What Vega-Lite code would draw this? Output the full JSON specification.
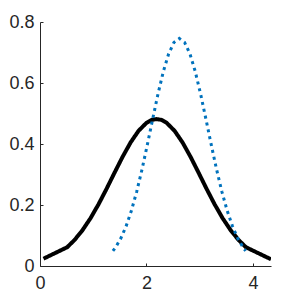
{
  "$schema": "https://vega.github.io/schema/vega-lite/v6.json",
  "autosize": "none",
  "width": 231,
  "height": 244,
  "padding": {"left": 40, "top": 22, "right": 29, "bottom": 34},
  "background": "white",
  "config": {"view": {"stroke": null}},
  "data": {"values": [
    {"x": 0.066, "y": 0.024, "s": "a"},
    {"x": 0.51, "y": 0.0615, "s": "a"},
    {"x": 0.65, "y": 0.0855, "s": "a"},
    {"x": 0.8, "y": 0.1178, "s": "a"},
    {"x": 0.95, "y": 0.157, "s": "a"},
    {"x": 1.1, "y": 0.2025, "s": "a"},
    {"x": 1.25, "y": 0.2529, "s": "a"},
    {"x": 1.4, "y": 0.3057, "s": "a"},
    {"x": 1.55, "y": 0.3574, "s": "a"},
    {"x": 1.7, "y": 0.4044, "s": "a"},
    {"x": 1.85, "y": 0.4429, "s": "a"},
    {"x": 2.0, "y": 0.4693, "s": "a"},
    {"x": 2.1, "y": 0.4791, "s": "a"},
    {"x": 2.19, "y": 0.4818, "s": "a"},
    {"x": 2.28, "y": 0.4791, "s": "a"},
    {"x": 2.38, "y": 0.4693, "s": "a"},
    {"x": 2.53, "y": 0.4429, "s": "a"},
    {"x": 2.68, "y": 0.4044, "s": "a"},
    {"x": 2.83, "y": 0.3574, "s": "a"},
    {"x": 2.98, "y": 0.3057, "s": "a"},
    {"x": 3.13, "y": 0.2529, "s": "a"},
    {"x": 3.28, "y": 0.2025, "s": "a"},
    {"x": 3.43, "y": 0.157, "s": "a"},
    {"x": 3.58, "y": 0.1178, "s": "a"},
    {"x": 3.73, "y": 0.0855, "s": "a"},
    {"x": 3.87, "y": 0.0615, "s": "a"},
    {"x": 4.34, "y": 0.022, "s": "a"},
    {"x": 1.37, "y": 0.0493, "s": "b"},
    {"x": 1.417, "y": 0.0603, "s": "b"},
    {"x": 1.517, "y": 0.0901, "s": "b"},
    {"x": 1.617, "y": 0.13, "s": "b"},
    {"x": 1.717, "y": 0.1813, "s": "b"},
    {"x": 1.817, "y": 0.2439, "s": "b"},
    {"x": 1.917, "y": 0.317, "s": "b"},
    {"x": 2.017, "y": 0.3978, "s": "b"},
    {"x": 2.117, "y": 0.4821, "s": "b"},
    {"x": 2.217, "y": 0.5641, "s": "b"},
    {"x": 2.317, "y": 0.6375, "s": "b"},
    {"x": 2.417, "y": 0.6956, "s": "b"},
    {"x": 2.517, "y": 0.7331, "s": "b"},
    {"x": 2.617, "y": 0.746, "s": "b"},
    {"x": 2.717, "y": 0.7331, "s": "b"},
    {"x": 2.817, "y": 0.6956, "s": "b"},
    {"x": 2.917, "y": 0.6375, "s": "b"},
    {"x": 3.017, "y": 0.5641, "s": "b"},
    {"x": 3.117, "y": 0.4821, "s": "b"},
    {"x": 3.217, "y": 0.3978, "s": "b"},
    {"x": 3.317, "y": 0.317, "s": "b"},
    {"x": 3.417, "y": 0.2439, "s": "b"},
    {"x": 3.517, "y": 0.1813, "s": "b"},
    {"x": 3.617, "y": 0.13, "s": "b"},
    {"x": 3.717, "y": 0.0901, "s": "b"},
    {"x": 3.817, "y": 0.0603, "s": "b"},
    {"x": 3.864, "y": 0.0493, "s": "b"}
  ]},
  "mark": {"type": "line", "clip": true},
  "encoding": {
    "x": {"field": "x", "type": "quantitative",
      "scale": {"domain": [0, 4.34], "nice": false, "zero": false},
      "axis": {"title": null, "values": [0, 2, 4], "grid": false, "domainColor": "#262626", "tickColor": "#262626", "tickSize": -3, "labelPadding": 11, "labelFontSize": 18, "labelFont": "Liberation Sans", "labelColor": "#262626", "labelFlush": false}},
    "y": {"field": "y", "type": "quantitative",
      "scale": {"domain": [0, 0.8], "nice": false},
      "axis": {"title": null, "values": [0, 0.2, 0.4, 0.6, 0.8], "format": "~g", "grid": false, "domainColor": "#262626", "tickColor": "#262626", "tickSize": -3, "labelPadding": 9, "labelFontSize": 18, "labelFont": "Liberation Sans", "labelColor": "#262626", "labelFlush": false}},
    "color": {"field": "s", "type": "nominal", "scale": {"domain": ["a", "b"], "range": ["#000000", "#0072BD"]}, "legend": null},
    "strokeDash": {"field": "s", "type": "nominal", "scale": {"domain": ["a", "b"], "range": [[1, 0], [3, 4]]}, "legend": null},
    "strokeWidth": {"field": "s", "type": "nominal", "scale": {"domain": ["a", "b"], "range": [4, 3]}, "legend": null}
  }
}
